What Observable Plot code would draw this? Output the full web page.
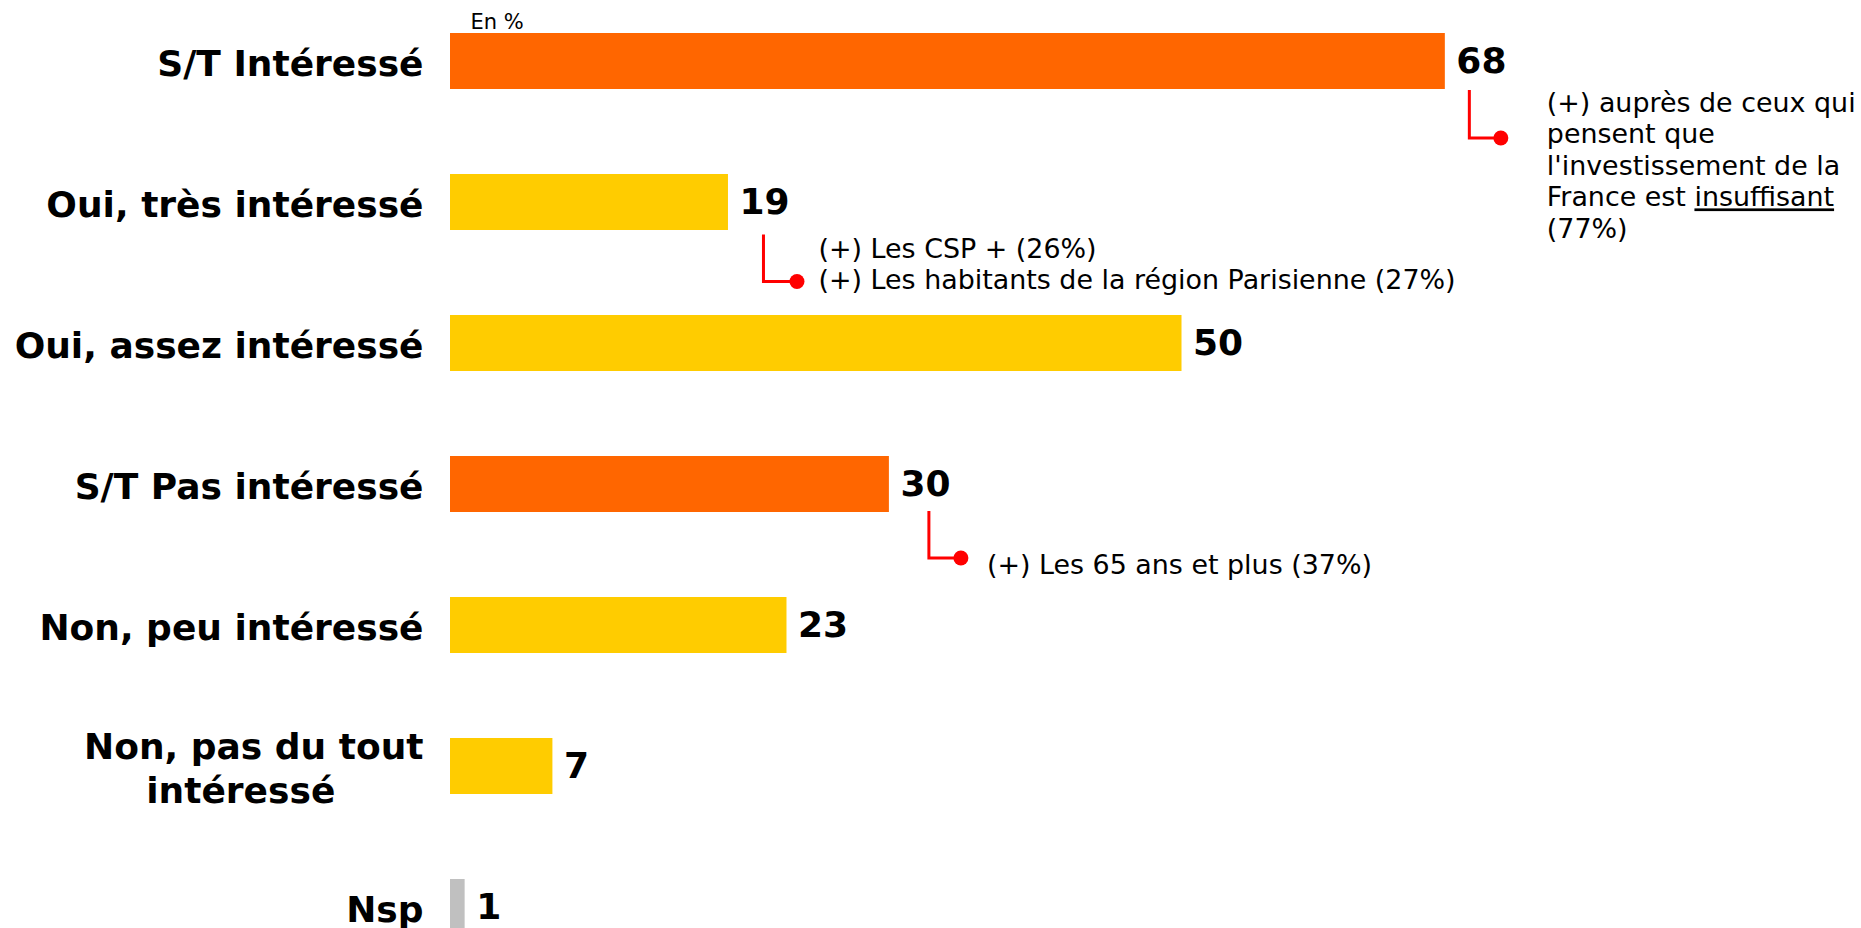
<!DOCTYPE html>
<html>
<head>
<meta charset="utf-8">
<script src="https://cdn.jsdelivr.net/npm/d3@7"></script>
<script src="https://cdn.jsdelivr.net/npm/@observablehq/plot@0.6"></script>
<style>
  html, body { margin: 0; padding: 0; background: #ffffff; overflow: hidden; }
  #chart svg { display: block; }
</style>
</head>
<body>
<div id="chart"></div>
<script>
// ---------- DATA ----------
const categories = [
  "S/T Intéressé",
  "Oui, très intéressé",
  "Oui, assez intéressé",
  "S/T Pas intéressé",
  "Non, peu intéressé",
  "Non, pas du tout intéressé",
  "Nsp"
];
const categoryLabels = [
  "S/T Intéressé",
  "Oui, très intéressé",
  "Oui, assez intéressé",
  "S/T Pas intéressé",
  "Non, peu intéressé",
  "Non, pas du tout\nintéressé",
  "Nsp"
];
const values = [68, 19, 50, 30, 23, 7, 1];
const groups = ["Sous-total", "Détail", "Détail", "Sous-total", "Détail", "Détail", "Nsp"];
const unitLabel = "En %";

const noteCategories = ["S/T Intéressé", "Oui, très intéressé", "S/T Pas intéressé"];
const noteLines = [
  ["(+) auprès de ceux qui", "pensent que", "l'investissement de la", "France est __insuffisant__", "(77%)"],
  ["(+) Les CSP + (26%)", "(+) Les habitants de la région Parisienne (27%)"],
  ["(+) Les 65 ans et plus (37%)"]
];

// ---------- BUILD ----------
const data = categories.map((c, i) => ({category: c, label: categoryLabels[i], value: values[i], group: groups[i]}));
const notes = noteCategories.map((c, i) => ({category: c, value: values[categories.indexOf(c)], lines: noteLines[i]}));

const FONT = "DejaVu Sans, Verdana, sans-serif";
const RED = "#FF0000";

// callout styling offsets (px, relative to bar end / bar centre)
const noteStyle = [
  {lineDx: 24.5, top: 29, corner: 77, dotDx: 56, textDx: 102, textDy: 41.5},
  {lineDx: 35.5, top: 32.5, corner: 79.5, dotDx: 69, textDx: 90.5, textDy: 46.5},
  {lineDx: 40, top: 27, corner: 74, dotDx: 72, textDx: 98, textDy: 80.5}
];
const noteFontSize = 26.9;
const noteLineStep = 31.5;

function calloutMark(index, scales) {
  const sx = scales.x, sy = scales.y;
  const bw = typeof sy.bandwidth === "function" ? sy.bandwidth() : (sy.bandwidth ?? 56);
  const g = d3.create("svg:g").attr("text-anchor", "start");
  notes.forEach((n, i) => {
    const s = noteStyle[i];
    const xe = sx(n.value);
    const yc = sy(n.category) + bw / 2;
    const xl = xe + s.lineDx;
    g.append("path")
      .attr("d", `M${xl},${yc + s.top}V${yc + s.corner}H${xe + s.dotDx}`)
      .attr("fill", "none").attr("stroke", RED).attr("stroke-width", 3);
    g.append("circle")
      .attr("cx", xe + s.dotDx).attr("cy", yc + s.corner).attr("r", 7.5).attr("fill", RED);
    n.lines.forEach((line, j) => {
      const t = g.append("text")
        .attr("class", "note")
        .attr("text-anchor", "start")
        .attr("x", xe + s.textDx)
        .attr("y", yc + s.textDy + j * noteLineStep)
        .attr("dy", "0.35em")
        .attr("font-family", FONT)
        .attr("font-size", noteFontSize)
        .attr("fill", "#000");
      line.split("__").forEach((part, k) => {
        if (!part) return;
        const ts = t.append("tspan").text(part);
        if (k % 2 === 1) ts.attr("text-decoration", "underline");
      });
    });
  });
  return g.node();
}

const plot = Plot.plot({
  width: 1861,
  height: 928,
  marginLeft: 450,
  marginRight: 0,
  marginTop: 0,
  marginBottom: 0,
  x: {domain: [0, 100], range: [450, 450 + 1463], axis: null},
  y: {domain: categories, range: [33.3, 935.7], paddingInner: 0.6, paddingOuter: 0, align: 0, axis: null},
  color: {domain: ["Sous-total", "Détail", "Nsp"], range: ["#FF6600", "#FFCC00", "#C0C0C0"]},
  style: {fontFamily: FONT, background: "#ffffff"},
  marks: [
    Plot.barX(data, {x: "value", y: "category", fill: "group"}),
    Plot.text(data, {
      x: "value", y: "category", text: d => String(d.value),
      textAnchor: "start", dx: 11, fontSize: 36, fontWeight: "bold", fill: "#000", fontFamily: FONT
    }),
    Plot.text(data, {
      y: "category", frameAnchor: "left", text: "label",
      textAnchor: "end", dx: -27, fontSize: 36, fontWeight: "bold", fill: "#000",
      lineHeight: 1.22, fontFamily: FONT
    }),
    Plot.text([unitLabel], {
      frameAnchor: "top-left", text: d => d, textAnchor: "start", lineAnchor: "middle",
      dx: 20, dy: 22, fontSize: 21, fill: "#000", fontFamily: FONT
    }),
    calloutMark
  ]
});

document.getElementById("chart").appendChild(plot);

// centre multi-line category labels inside their right-aligned box
plot.querySelectorAll("text").forEach(t => {
  if (t.classList.contains("note")) return;
  const spans = t.querySelectorAll("tspan");
  if (spans.length < 2) return;
  let w = 0;
  spans.forEach(s => { w = Math.max(w, s.getComputedTextLength()); });
  t.setAttribute("text-anchor", "middle");
  spans.forEach(s => {
    const lw = s.getComputedTextLength();
    // narrower lines sit slightly left of the box centre, as in the source
    s.setAttribute("x", -w / 2 - (lw < w ? 13 : 0));
  });
});
</script>
</body>
</html>
